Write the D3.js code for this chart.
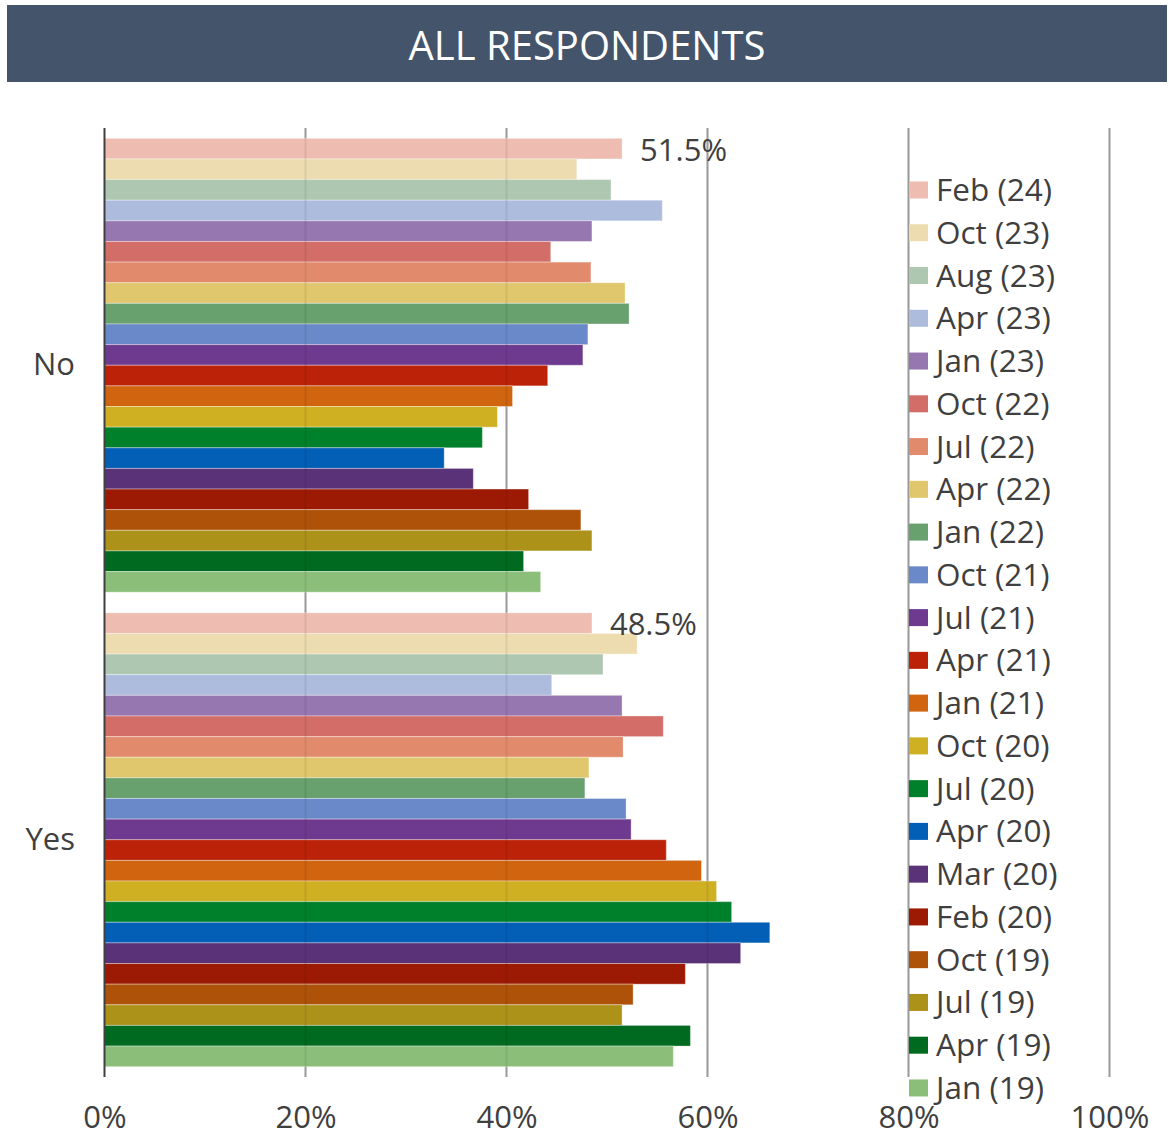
<!DOCTYPE html>
<html>
<head>
<meta charset="utf-8">
<script src="https://cdn.jsdelivr.net/npm/d3@7"></script>
<style>
  html, body { margin: 0; padding: 0; background: #fff; }
  svg { display: block; }
  text { font-family: "Open Sans", "Liberation Sans", sans-serif; }
</style>
</head>
<body>
<svg id="chart" width="1169" height="1136"></svg>
<script>
const title = "ALL RESPONDENTS";
const categories = ["No", "Yes"];
const series = ["Feb (24)", "Oct (23)", "Aug (23)", "Apr (23)", "Jan (23)", "Oct (22)", "Jul (22)", "Apr (22)", "Jan (22)", "Oct (21)", "Jul (21)", "Apr (21)", "Jan (21)", "Oct (20)", "Jul (20)", "Apr (20)", "Mar (20)", "Feb (20)", "Oct (19)", "Jul (19)", "Apr (19)", "Jan (19)"];
const noValues  = [51.5, 47.0, 50.4, 55.5, 48.5, 44.4, 48.4, 51.8, 52.2, 48.1, 47.6, 44.1, 40.6, 39.1, 37.6, 33.8, 36.7, 42.2, 47.4, 48.5, 41.7, 43.4];
const yesValues = [48.5, 53.0, 49.6, 44.5, 51.5, 55.6, 51.6, 48.2, 47.8, 51.9, 52.4, 55.9, 59.4, 60.9, 62.4, 66.2, 63.3, 57.8, 52.6, 51.5, 58.3, 56.6];
const colors = ["#EEBCB0", "#EDDCB0", "#AEC7B0", "#ADBCDD", "#9677AF", "#D36D68", "#E28B6C", "#E0C76D", "#68A06E", "#6A89C8", "#6E3A8F", "#BB2207", "#D1640F", "#CEB022", "#00802B", "#035FB5", "#5A3277", "#9C1A03", "#AE520A", "#AD921A", "#006A20", "#8BBE79"];
const xTicks = [0, 20, 40, 60, 80, 100];
const labeledSeries = "Feb (24)";

const valuesByCat = { "No": noValues, "Yes": yesValues };
const data = [];
categories.forEach(c => series.forEach((s, i) => data.push({ cat: c, series: s, value: valuesByCat[c][i] })));

const svg = d3.select("#chart");
const textColor = "#3F3F3F";

// Title bar
svg.append("rect").attr("x", 7).attr("y", 5).attr("width", 1160).attr("height", 77).attr("fill", "#44546A");
svg.append("text").attr("x", 587).attr("y", 60).attr("text-anchor", "middle")
  .attr("fill", "#fff").style("font-size", "40px").style("font-weight", 400).text(title);

const x = d3.scaleLinear().domain([0, 100]).range([104.5, 1109.5]);
const y0 = d3.scaleBand().domain(categories).range([128, 1077]);
const y1 = d3.scaleBand().domain(series).range([0, y0.bandwidth()]).paddingOuter(0.5);
const color = d3.scaleOrdinal().domain(series).range(colors);

// Gridlines
const grid = svg.append("g");
grid.selectAll("line").data(xTicks.filter(t => t > 0)).join("line")
  .attr("x1", d => x(d)).attr("x2", d => x(d)).attr("y1", 128).attr("y2", 1077)
  .attr("stroke", "#A6A6A6").attr("stroke-width", 2);

// Bars
svg.append("g").selectAll("rect").data(data).join("rect")
  .attr("x", x(0))
  .attr("y", d => y0(d.cat) + y1(d.series))
  .attr("width", d => x(d.value) - x(0))
  .attr("height", y1.bandwidth())
  .attr("fill", d => color(d.series))
  .attr("stroke", "rgba(255,255,255,0.35)").attr("stroke-width", 1);

// faint gridlines showing through
svg.append("g").selectAll("line").data(xTicks.filter(t => t > 0)).join("line")
  .attr("x1", d => x(d)).attr("x2", d => x(d)).attr("y1", 128).attr("y2", 1077)
  .attr("stroke", "#000").attr("stroke-opacity", 0.07).attr("stroke-width", 2);

// Zero axis line
svg.append("line").attr("x1", x(0)).attr("x2", x(0)).attr("y1", 128).attr("y2", 1077)
  .attr("stroke", "#404040").attr("stroke-width", 2);

// Data labels
svg.append("g").selectAll("text").data(data.filter(d => d.series === labeledSeries)).join("text")
  .attr("x", d => x(d.value) + 18)
  .attr("y", d => y0(d.cat) + y1(d.series) + y1.bandwidth() / 2 + 12)
  .attr("fill", textColor).style("font-size", "31px")
  .text(d => d.value.toFixed(1) + "%");

// X axis tick labels
const xAxis = d3.axisBottom(x).tickValues(xTicks).tickFormat(d => d + "%").tickSize(0).tickPadding(0);
const xg = svg.append("g").attr("transform", "translate(0,1077)").call(xAxis);
xg.select(".domain").remove();
xg.selectAll("text").attr("fill", textColor).style("font-size", "31px")
  .style("font-family", "'Open Sans', sans-serif").attr("dy", null).attr("y", 51);

// Category labels
const yAxis = d3.axisLeft(y0).tickSize(0).tickPadding(0);
const yg = svg.append("g").attr("transform", "translate(75,0)").call(yAxis);
yg.select(".domain").remove();
yg.selectAll("text").attr("fill", textColor).style("font-size", "31px")
  .style("font-family", "'Open Sans', sans-serif").attr("dy", null).attr("y", 10).attr("x", 0);

// Legend
const legStart = 190, legStep = 42.76;
const leg = svg.append("g").selectAll("g").data(series).join("g")
  .attr("transform", (d, i) => `translate(909,${legStart + i * legStep})`);
leg.append("rect").attr("x", 0).attr("y", -8.5).attr("width", 19).attr("height", 17).attr("fill", d => color(d));
leg.append("text").attr("x", 27).attr("y", 11).attr("fill", textColor).style("font-size", "31.5px").text(d => d);
</script>
</body>
</html>
